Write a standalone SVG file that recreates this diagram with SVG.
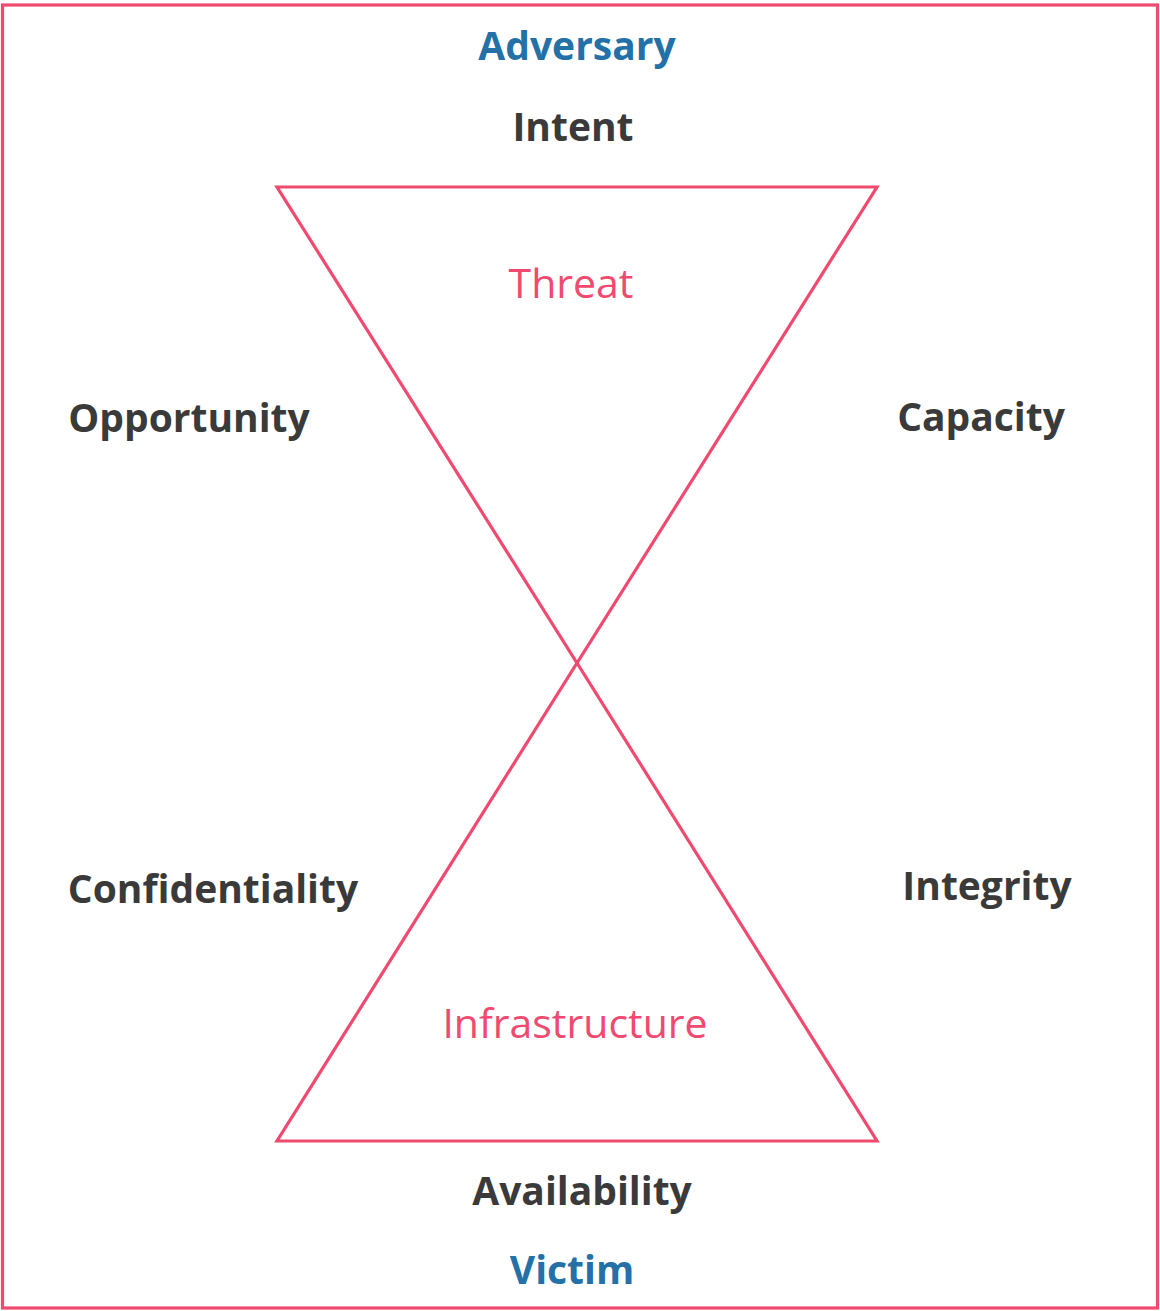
<svg xmlns="http://www.w3.org/2000/svg" width="1160" height="1311" viewBox="0 0 1160 1311">
<style>
.lbl{font-family:"Open Sans","Noto Sans","Liberation Sans",sans-serif;font-weight:700;font-size:39px;fill:#3a3a3a;text-anchor:middle}
.blue{fill:#2471a8}
.pk{font-family:"Open Sans","Noto Sans","Liberation Sans",sans-serif;font-weight:400;font-size:41px;fill:#f04a70;text-anchor:middle}
.ln{fill:none;stroke:#f04a70;stroke-width:3.2}
</style>
<rect x="0" y="0" width="1160" height="1311" fill="#ffffff"/>
<rect id="frame" class="ln" x="2.5" y="5" width="1155" height="1303"/>
<g id="connectors">
<polygon class="ln" points="277,187 877,187 577,663"/>
<polygon class="ln" points="277,1141 877,1141 577,663"/>
</g>
<g id="adversary"><text class="lbl blue" x="577" y="60">Adversary</text></g>
<g id="intent"><text class="lbl" x="573" y="141">Intent</text></g>
<g id="threat"><text class="pk" x="571" y="298">Threat</text></g>
<g id="opportunity"><text class="lbl" x="189" y="432">Opportunity</text></g>
<g id="capacity"><text class="lbl" x="981" y="431">Capacity</text></g>
<g id="confidentiality"><text class="lbl" x="213" y="903">Confidentiality</text></g>
<g id="integrity"><text class="lbl" x="987" y="900">Integrity</text></g>
<g id="infrastructure"><text class="pk" x="575" y="1038">Infrastructure</text></g>
<g id="availability"><text class="lbl" x="582" y="1205">Availability</text></g>
<g id="victim"><text class="lbl blue" x="572" y="1284">Victim</text></g>
</svg>
